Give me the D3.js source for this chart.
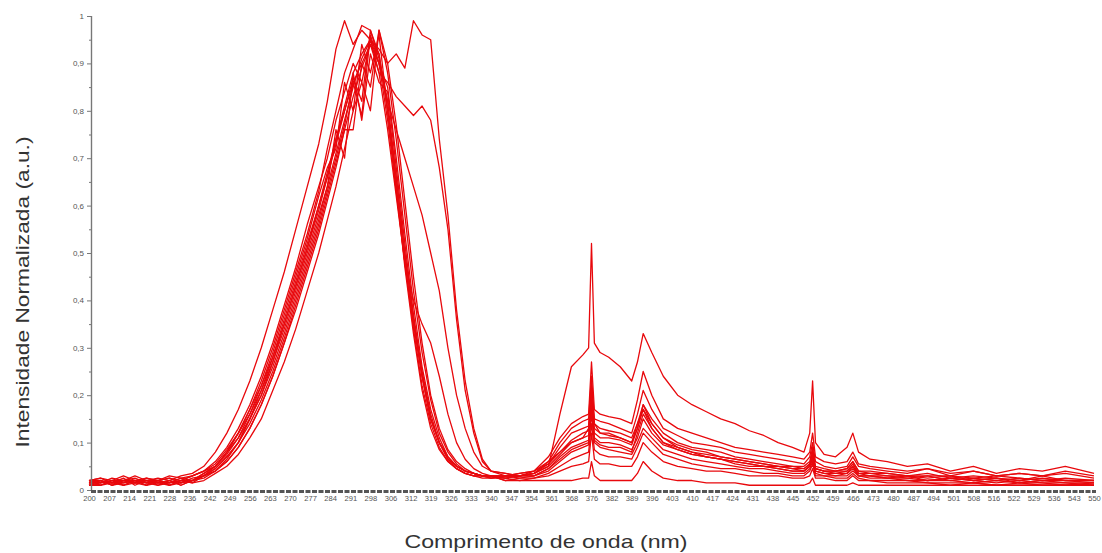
<!DOCTYPE html>
<html><head><meta charset="utf-8">
<script src="https://cdn.jsdelivr.net/npm/d3@7"></script>
<style>
body{margin:0;background:#fff;}
svg{display:block;font-family:"Liberation Sans",Arial,sans-serif;}
</style>
</head><body>
<svg id="chart" width="1102" height="553"></svg>
<script>
// Wavelength grid (nm) shared by every spectrum
const wavelengths = [
  200,204,208,212,216,220,224,228,232,236,240,
  244,248,252,256,260,264,268,272,276,280,
  283,286,289,292,295,298,301,304,307,310,313,316,319,322,325,328,331,334,337,340,
  345,350,355,360,364,368,372,
  374,375,376,378,381,385,389,391,393,396,
  400,405,410,415,420,425,430,435,440,445,
  449,451,452,453,456,460,464,466,468,472,
  478,485,492,500,508,516,524,532,540,550
];

// Normalised intensity of each spectrum at the wavelengths above
const specL = [
  .02,.025,.015,.02,.03,.02,.025,.02,.03,.035,.05,
  .08,.12,.17,.23,.30,.38,.46,.55,.64,.73,
  .82,.93,.99,.94,.97,.95,.88,.76,.62,.48,.35,.24,.15,.10,.07,.05,.04,.035,.03,.03,
  .03,.035,.04,.06, .08,.10,.11, .13,.22,.14,.12,.12,.11,.10,.14,.17,.13,
  .10,.09,.08,.07,.065,.06,.055,.05,.05,.045, .04,.05,.08,.045,.04,.035,.04,.05,.035,.03,
  .03,.025,.03,.02,.025,.02,.025,.02,.02,.015
];
const specB1 = [
  .015,.02,.01,.02,.015,.025,.02,.015,.02,.03,.04,
  .06,.09,.13,.18,.24,.31,.39,.47,.56,.64,
  .70,.78,.84,.90,.86,.95,.90,.78,.63,.48,.34,.22,.14,.09,.06,.045,.035,.03,.03,.025,
  .03,.035,.04,.055, .08,.105,.12, .125,.20,.13,.12,.115,.11,.10,.13,.17,.14,
  .11,.095,.085,.08,.07,.065,.06,.055,.05,.045, .045,.055,.08,.045,.04,.04,.04,.055,.035,.035,
  .03,.03,.025,.03,.02,.025,.02,.025,.02,.02
];
const specB2 = [
  .02,.01,.02,.015,.02,.01,.02,.025,.015,.02,.03,
  .05,.08,.11,.16,.21,.28,.35,.43,.51,.60,
  .66,.74,.80,.87,.82,.97,.91,.82,.66,.50,.36,.24,.15,.10,.065,.05,.04,.035,.03,.03,
  .025,.03,.03,.045, .07,.09,.10, .105,.18,.11,.10,.10,.095,.085,.11,.15,.12,
  .095,.085,.075,.07,.065,.06,.055,.05,.045,.04, .04,.05,.07,.04,.035,.035,.035,.05,.03,.03,
  .025,.03,.02,.025,.02,.025,.015,.02,.015,.015
];
const specB3 = [
  .01,.015,.02,.01,.015,.02,.01,.015,.02,.02,.03,
  .045,.07,.10,.14,.19,.25,.32,.40,.48,.56,
  .63,.70,.77,.86,.79,.96,.90,.85,.70,.54,.39,.26,.17,.11,.07,.05,.04,.035,.03,.03,
  .025,.03,.03,.04, .06,.08,.09, .095,.16,.10,.09,.085,.08,.075,.10,.13,.11,
  .085,.075,.065,.06,.055,.05,.045,.045,.04,.035, .035,.045,.06,.035,.03,.03,.03,.04,.03,.025,
  .025,.02,.02,.02,.015,.02,.015,.015,.01,.015
];
const specB4 = [
  .02,.02,.015,.025,.01,.02,.015,.02,.01,.02,.035,
  .05,.08,.12,.17,.22,.29,.37,.45,.53,.62,
  .68,.72,.86,.80,.94,.88,.96,.80,.64,.47,.33,.21,.13,.085,.06,.045,.035,.03,.025,.025,
  .03,.025,.03,.045, .065,.085,.095, .10,.17,.105,.095,.09,.09,.08,.12,.16,.13,
  .10,.085,.075,.07,.065,.055,.05,.05,.045,.04, .04,.05,.065,.04,.035,.03,.035,.045,.03,.03,
  .025,.025,.02,.025,.02,.015,.02,.015,.015,.01
];
const specB5 = [
  .015,.01,.02,.02,.015,.01,.02,.01,.015,.025,.03,
  .04,.06,.09,.13,.18,.24,.31,.38,.46,.54,
  .61,.68,.76,.76,.90,.85,.97,.88,.74,.58,.42,.29,.19,.12,.08,.055,.04,.035,.03,.03,
  .02,.025,.025,.035, .05,.065,.075, .08,.14,.085,.075,.07,.07,.065,.09,.12,.10,
  .075,.065,.055,.05,.045,.045,.04,.035,.035,.03, .03,.04,.055,.03,.03,.025,.025,.035,.025,.02,
  .02,.02,.015,.015,.015,.01,.015,.01,.01,.01
];
const specB6 = [
  .01,.02,.01,.015,.02,.015,.01,.02,.015,.02,.025,
  .04,.065,.10,.15,.20,.27,.34,.42,.50,.58,
  .64,.76,.70,.88,.78,.92,.86,.84,.68,.52,.37,.25,.16,.10,.065,.045,.035,.03,.03,.025,
  .025,.02,.025,.03, .04,.05,.055, .06,.12,.065,.055,.055,.05,.05,.07,.10,.08,
  .06,.05,.045,.04,.04,.035,.03,.03,.03,.025, .025,.03,.045,.025,.025,.02,.02,.03,.02,.02,
  .015,.015,.015,.01,.015,.01,.01,.01,.01,.01
];
const specB7 = [
  .02,.015,.025,.02,.02,.015,.02,.025,.02,.03,.04,
  .055,.085,.12,.17,.23,.30,.38,.46,.54,.63,
  .72,.80,.88,.93,.98,.97,.92,.80,.66,.50,.36,.24,.15,.10,.07,.05,.04,.035,.03,.03,
  .03,.03,.035,.05, .075,.10,.11, .115,.19,.12,.11,.11,.105,.095,.13,.18,.14,
  .11,.09,.08,.075,.07,.065,.06,.055,.05,.05, .045,.055,.075,.045,.04,.04,.045,.06,.04,.035,
  .035,.03,.035,.025,.03,.025,.02,.03,.02,.02
];
const specB8 = [
  .01,.01,.015,.01,.02,.01,.015,.01,.02,.015,.02,
  .035,.05,.075,.11,.15,.21,.27,.34,.42,.50,
  .57,.64,.72,.80,.86,.80,.97,.90,.77,.61,.45,.31,.20,.13,.085,.06,.045,.035,.03,.03,
  .02,.02,.02,.02, .02,.02,.025, .025,.06,.03,.02,.02,.02,.02,.035,.06,.04,
  .025,.02,.02,.015,.015,.015,.01,.01,.01,.01, .01,.015,.025,.01,.01,.01,.01,.015,.01,.01,
  .01,.01,.01,.01,.01,.01,.01,.01,.01,.01
];
const specR1 = [
  .02,.015,.02,.01,.02,.02,.015,.02,.01,.02,.03,
  .04,.06,.09,.13,.18,.24,.31,.39,.47,.55,
  .62,.69,.76,.83,.89,.94,.90,.82,.76,.70,.64,.58,.50,.42,.30,.20,.13,.08,.05,.04,
  .035,.03,.035,.06, .10,.13,.145, .15,.24,.15,.145,.14,.13,.12,.16,.21,.17,
  .13,.115,.10,.095,.09,.08,.075,.07,.065,.06, .055,.07,.10,.06,.05,.045,.05,.07,.05,.045,
  .04,.035,.045,.03,.04,.03,.035,.03,.035,.025
];
const specR2 = [
  .015,.02,.01,.02,.015,.02,.02,.01,.02,.015,.03,
  .045,.07,.10,.15,.20,.26,.33,.41,.49,.57,
  .64,.71,.78,.85,.91,.95,.92,.80,.64,.48,.40,.35,.31,.24,.16,.10,.065,.045,.035,.03,
  .03,.03,.035,.055, .09,.12,.13, .135,.21,.14,.13,.125,.12,.11,.14,.18,.15,
  .12,.10,.09,.085,.08,.07,.065,.06,.055,.05, .05,.06,.09,.05,.045,.04,.045,.06,.04,.04,
  .035,.03,.03,.03,.025,.03,.025,.02,.025,.02
];
const specP1 = [
  .02,.025,.02,.03,.02,.025,.02,.03,.025,.03,.04,
  .05,.08,.12,.16,.22,.28,.36,.44,.52,.60,
  .67,.74,.81,.88,.92,.95,.93,.90,.92,.89,.99,.96,.95,.74,.58,.38,.23,.13,.065,.04,
  .035,.03,.035,.05, .16,.26,.285, .30,.52,.31,.29,.28,.26,.23,.27,.33,.29,
  .24,.20,.18,.165,.15,.14,.125,.115,.10,.09, .08,.12,.23,.10,.075,.07,.09,.12,.08,.065,
  .06,.05,.055,.04,.05,.035,.045,.04,.05,.035
];
const specP2 = [
  .015,.02,.015,.02,.025,.015,.02,.015,.025,.02,.035,
  .05,.075,.11,.15,.21,.27,.35,.43,.51,.59,
  .66,.73,.80,.86,.90,.94,.88,.86,.83,.81,.79,.81,.78,.68,.55,.36,.21,.12,.06,.04,
  .03,.03,.04,.07, .11,.14,.155, .16,.27,.17,.16,.155,.15,.14,.19,.25,.20,
  .15,.13,.12,.11,.10,.09,.085,.08,.075,.07, .065,.08,.12,.07,.06,.055,.06,.08,.055,.05,
  .045,.04,.045,.035,.04,.03,.035,.03,.04,.03
];
const spectra = [specL, specB1, specB2, specB3, specB4, specB5, specB6, specB7, specB8, specR1, specR2, specP1, specP2];

const yTickValues = [0,0.1,0.2,0.3,0.4,0.5,0.6,0.7,0.8,0.9,1];
const yTickLabels = ["0","0,1","0,2","0,3","0,4","0,5","0,6","0,7","0,8","0,9","1"];
const xTickLabels = ["200","207","214","221","228","236","242","249","256","263","270","277","284","291","298","306","312","319","326","333","340","347","354","361","368","376","382","389","396","403","410","417","424","431","438","445","452","459","466","473","480","487","494","501","508","516","522","529","536","543","550"];
const xTickValues = xTickLabels.map((d,i)=>200+7*i);

const svg = d3.select("#chart");
const x = d3.scaleLinear().domain([200,550]).range([89,1094]);
const y = d3.scaleLinear().domain([0,1]).range([490,16]);

// spectra
const line = d3.line().x((d,i)=>x(wavelengths[i])).y(d=>y(d));
svg.append("g").selectAll("path").data(spectra).join("path")
  .attr("d", line).attr("fill","none")
  .attr("stroke","#e8080c").attr("stroke-width",1.3).attr("stroke-linejoin","round");

// y axis
const yMinor = svg.append("g").attr("transform","translate(91,0)")
  .call(d3.axisLeft(y).tickValues(d3.range(0.05,1,0.1)).tickSize(2).tickFormat(""));
const yAx = svg.append("g").attr("transform","translate(91,0)")
  .call(d3.axisLeft(y).tickValues(yTickValues).tickSize(4).tickPadding(3)
        .tickFormat((d,i)=>yTickLabels[i]));
[yMinor,yAx].forEach(g=>{
  g.select(".domain").attr("stroke","#777").attr("stroke-width",1.2);
  g.selectAll(".tick line").attr("stroke","#777");
});
yAx.selectAll("text").attr("font-size",8).attr("fill","#555")
  .attr("font-family","'Liberation Sans',Arial,sans-serif");

// x axis
svg.append("line").attr("x1",91).attr("x2",1096).attr("y1",491.5).attr("y2",491.5)
  .attr("stroke","#555").attr("stroke-width",3).attr("stroke-dasharray","5,1.5");
const xAx = svg.append("g").attr("transform","translate(0,493)")
  .call(d3.axisBottom(x).tickValues(xTickValues).tickSize(0).tickPadding(3)
        .tickFormat((d,i)=>xTickLabels[i]));
xAx.select(".domain").remove();
xAx.selectAll("text").attr("font-size",7.6).attr("fill","#555")
  .attr("font-family","'Liberation Sans',Arial,sans-serif");

// titles
svg.append("text").attr("x",546).attr("y",548).attr("text-anchor","middle")
  .attr("font-size",19).attr("fill","#333")
  .attr("textLength",283).attr("lengthAdjust","spacingAndGlyphs")
  .text("Comprimento de onda (nm)");
svg.append("text").attr("transform","translate(29,292) rotate(-90)")
  .attr("text-anchor","middle").attr("font-size",19).attr("fill","#333")
  .attr("textLength",311).attr("lengthAdjust","spacingAndGlyphs")
  .text("Intensidade Normalizada (a.u.)");
</script>
</body></html>
